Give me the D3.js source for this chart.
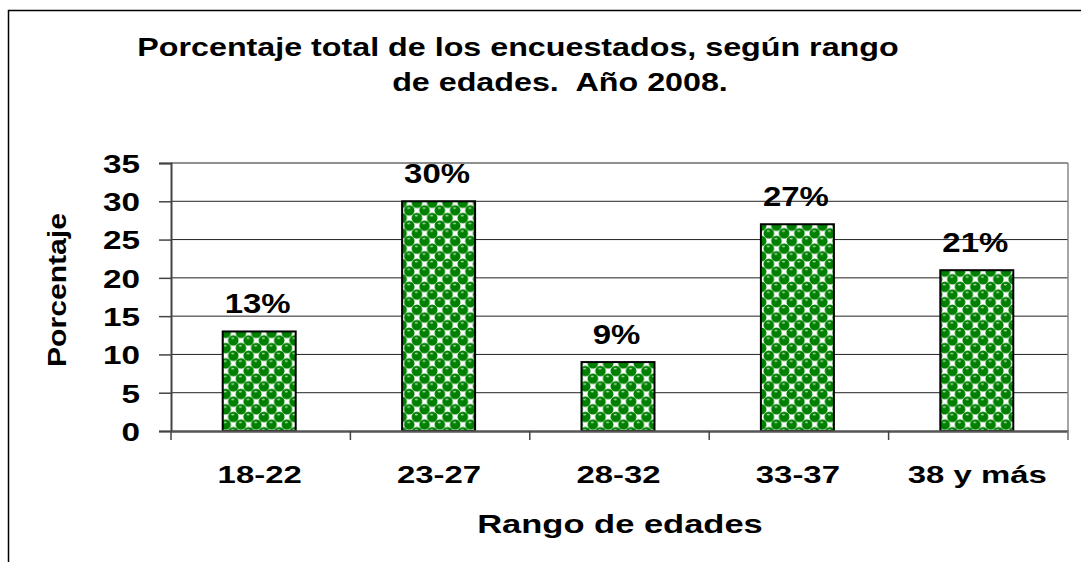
<!DOCTYPE html>
<html>
<head>
<meta charset="utf-8">
<script src="https://cdn.jsdelivr.net/npm/d3@7"></script>
<style>
  html, body { margin: 0; padding: 0; background: #fff; }
  text { font-family: "Liberation Sans", Arial, sans-serif; font-weight: bold; fill: #000; white-space: pre; }
</style>
</head>
<body>
<svg id="chart" width="1081" height="562"></svg>
<script>
// data
var categories = ['18-22', '23-27', '28-32', '33-37', '38 y más'];
var values = [13, 30, 9, 27, 21];
var valueLabels = ['13%', '30%', '9%', '27%', '21%'];
var yTicks = [0, 5, 10, 15, 20, 25, 30, 35];
var titleLines = ['Porcentaje total de los encuestados, según rango', 'de edades.  Año 2008.'];

var svg = d3.select('#chart');
var plotL = 171, plotR = 1068, plotT = 163, plotB = 431;

// the original picture is stretched sideways, so widen text to match
function stretch(sel, k) {
  sel.each(function() {
    var w = this.getComputedTextLength();
    d3.select(this).attr('textLength', w * k).attr('lengthAdjust', 'spacingAndGlyphs');
  });
}

// outer frame of the chart object
svg.append('rect')
  .attr('x', 8.5).attr('y', 10.5)
  .attr('width', 1100).attr('height', 600)
  .attr('fill', '#fff').attr('stroke', '#000').attr('stroke-width', 1.5);

// sphere pattern like the excel fill
var defs = svg.append('defs');
var tile = 15.3, h = tile / 2;
var pat = defs.append('pattern')
  .attr('id', 'spheres')
  .attr('patternUnits', 'userSpaceOnUse')
  .attr('width', tile).attr('height', tile);
pat.append('rect').attr('width', tile).attr('height', tile).attr('fill', '#fff');
var centres = [[h / 2, h / 2], [h * 1.5, h * 1.5], [h * 1.5 - tile, h * 1.5 - tile],
  [h * 1.5, h * 1.5 - tile], [h * 1.5 - tile, h * 1.5], [h / 2 + tile, h / 2], [h / 2, h / 2 + tile], [h / 2 + tile, h / 2 + tile]];
centres.forEach(function(c) {
  pat.append('circle').attr('cx', c[0]).attr('cy', c[1]).attr('r', 5.3).attr('fill', '#008000');
});
centres.forEach(function(c) {
  pat.append('ellipse').attr('cx', c[0] - 0.6).attr('cy', c[1] - 2.3).attr('rx', 1.6).attr('ry', 0.9).attr('fill', '#a8d8a8');
});

var x = d3.scaleBand().domain(categories).range([plotL, plotR]).paddingInner(0).paddingOuter(0);
var y = d3.scaleLinear().domain([0, 35]).range([plotB, plotT]);

// gridlines
svg.append('g').selectAll('line').data(yTicks.filter(function(d) { return d > 0; }))
  .join('line')
  .attr('x1', plotL).attr('x2', plotR)
  .attr('y1', function(d) { return y(d); }).attr('y2', function(d) { return y(d); })
  .attr('stroke', '#222').attr('stroke-width', 1);

// right border of the plot area
svg.append('line')
  .attr('x1', plotR).attr('x2', plotR).attr('y1', plotT).attr('y2', plotB + 9)
  .attr('stroke', '#888').attr('stroke-width', 1.5);

// bars
var barW = 73;
svg.append('g').selectAll('rect').data(values)
  .join('rect')
  .attr('x', function(d, i) { return x(categories[i]) + x.bandwidth() / 2 - barW / 2 - 1.5; })
  .attr('y', function(d) { return y(d); })
  .attr('width', barW)
  .attr('height', function(d) { return y(0) - y(d); })
  .attr('fill', 'url(#spheres)')
  .attr('stroke', '#000').attr('stroke-width', 2);

// y axis
var yAxis = d3.axisLeft(y).tickValues(yTicks).tickSize(12).tickPadding(19);
var gy = svg.append('g').attr('transform', 'translate(' + plotL + ',0)').call(yAxis);
gy.attr('font-family', null).attr('font-size', null);
gy.select('.domain').attr('stroke', '#444').attr('stroke-width', 2);
gy.selectAll('.tick line').attr('stroke', '#444').attr('stroke-width', 1.5);
gy.selectAll('.tick text')
  .attr('font-size', 26).attr('dy', '0.36em').attr('fill', '#000')
  .call(stretch, 1.28);

// x axis
var xAxis = d3.axisBottom(x).tickSize(0).tickFormat('');
var gx = svg.append('g').attr('transform', 'translate(0,' + plotB + ')').call(xAxis);
gx.select('.domain').attr('stroke', '#555').attr('stroke-width', 2.5);
gx.selectAll('.tick').remove();
svg.append('g').selectAll('line').data(d3.range(categories.length + 1))
  .join('line')
  .attr('x1', function(i) { return plotL + i * x.bandwidth(); })
  .attr('x2', function(i) { return plotL + i * x.bandwidth(); })
  .attr('y1', plotB).attr('y2', plotB + 9)
  .attr('stroke', function(i) { return i === categories.length ? '#888' : '#444'; })
  .attr('stroke-width', 1.5);

// category labels
svg.append('g').selectAll('text').data(categories)
  .join('text')
  .attr('x', function(d) { return x(d) + x.bandwidth() / 2 - 1; })
  .attr('y', 483)
  .attr('text-anchor', 'middle')
  .attr('font-size', 23)
  .text(function(d) { return d; })
  .call(stretch, 1.43);

// value labels
svg.append('g').selectAll('text').data(values)
  .join('text')
  .attr('x', function(d, i) { return x(categories[i]) + x.bandwidth() / 2 - 3; })
  .attr('y', function(d) { return y(d) - 18; })
  .attr('text-anchor', 'middle')
  .attr('font-size', 27)
  .text(function(d, i) { return valueLabels[i]; })
  .call(stretch, 1.22);

// titles
svg.append('g').selectAll('text').data(titleLines)
  .join('text')
  .attr('x', function(d, i) { return i === 0 ? 518 : 560; })
  .attr('y', function(d, i) { return i === 0 ? 56 : 91; })
  .attr('text-anchor', 'middle')
  .attr('font-size', 26)
  .text(function(d) { return d; })
  .call(stretch, 1.24);

svg.append('text')
  .attr('x', 620).attr('y', 533)
  .attr('text-anchor', 'middle')
  .attr('font-size', 25)
  .text('Rango de edades')
  .call(stretch, 1.38);

svg.append('text')
  .attr('transform', 'translate(66,290) rotate(-90)')
  .attr('text-anchor', 'middle')
  .attr('font-size', 25)
  .attr('textLength', 154).attr('lengthAdjust', 'spacingAndGlyphs')
  .text('Porcentaje');
</script>
</body>
</html>
